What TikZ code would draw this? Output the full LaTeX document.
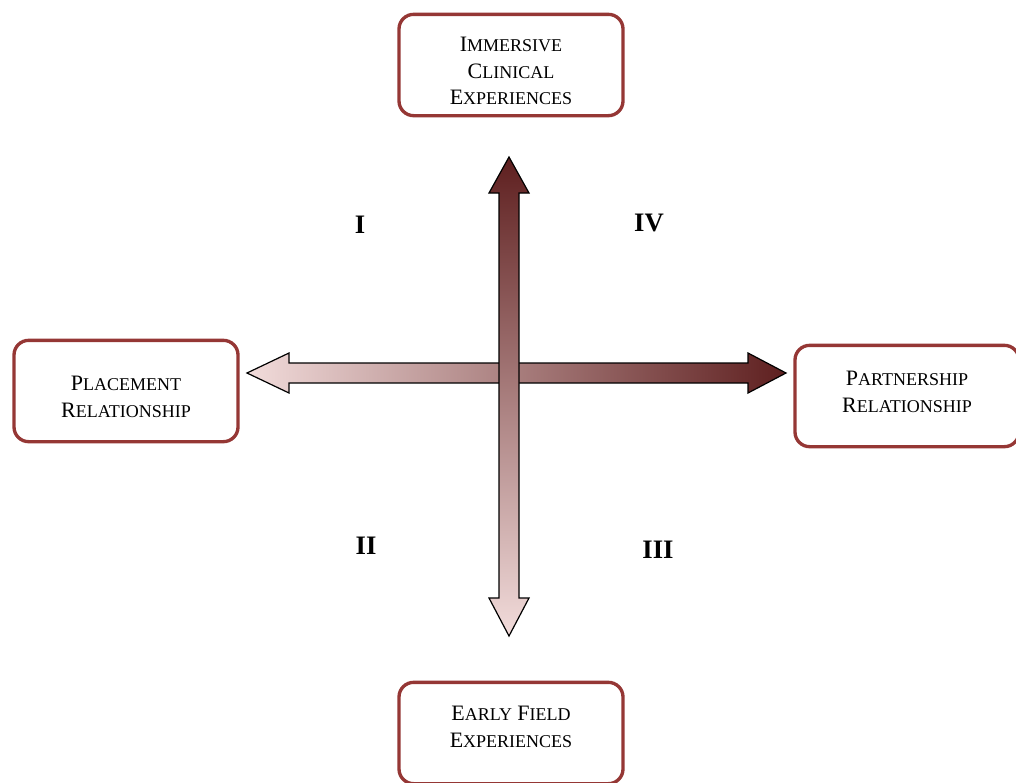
\documentclass[tikz,border=0pt]{standalone}
\usepackage{fontspec}
\setmainfont{Liberation Serif}
\usetikzlibrary{positioning}
\definecolor{boxred}{HTML}{953735}
\definecolor{arrdark}{HTML}{5E1F1F}
\definecolor{arrlight}{HTML}{F2DCDB}
\newcommand{\fakesc}[2]{{\fontsize{16.5}{20}\selectfont #1}{\fontsize{13.5}{20}\selectfont #2}}

\begin{document}
\begin{tikzpicture}[
  x=0.75pt, y=-0.75pt,
  quadbox/.style={draw=boxred, line width=2.5pt, rounded corners=11pt, minimum width=168pt, minimum height=76pt},
  boxtext/.style={align=center, inner sep=0pt, font=\fontsize{16}{20}\selectfont},
  numeral/.style={font=\fontsize{20}{24}\selectfont\bfseries},
  blockarrow/.style={draw=black, line width=0.9pt, line join=miter}
]
  \useasboundingbox (0,0) rectangle (1016,782);

  \node[quadbox] (clinical) at (511,65) {};
  \node[quadbox] (placement) at (126,391) {};
  \node[quadbox] (partnership) at (907,396) {};
  \node[quadbox] (field) at (511,733) {};

  \node[boxtext] (clinicaltxt) at ([yshift=-4.5pt]clinical.center) {\fakesc{I}{MMERSIVE}\\\fakesc{C}{LINICAL}\\\fakesc{E}{XPERIENCES}};
  \node[boxtext] (placementtxt) at ([yshift=-4.5pt]placement.center) {\fakesc{P}{LACEMENT}\\\fakesc{R}{ELATIONSHIP}};
  \node[boxtext] (partnershiptxt) at ([yshift=3pt]partnership.center) {\fakesc{P}{ARTNERSHIP}\\\fakesc{R}{ELATIONSHIP}};
  \node[boxtext] (fieldtxt) at ([yshift=4.5pt]field.center) {\fakesc{E}{ARLY} \fakesc{F}{IELD}\\\fakesc{E}{XPERIENCES}};

  % Horizontal double arrow: placement -> partnership.
  \shade[blockarrow, left color=arrlight, right color=arrdark]
    (289,363) -- (289,353) -- (247,373) -- (289,393) -- (289,383)
    -- (748,383) -- (748,393) -- (786,373) -- (748,353) -- (748,363) -- cycle;

  % Vertical double arrow: field experiences -> clinical.
  \shade[blockarrow, top color=arrdark, bottom color=arrlight]
    (499,193) -- (489,193) -- (509,157) -- (529,193) -- (519,193)
    -- (519,598) -- (529,598) -- (509,636) -- (489,598) -- (499,598) -- cycle;

  % Quadrants.
  \node[numeral] (q1) at (360,225) {I};
  \node[numeral] (q4) at (649,223) {IV};
  \node[numeral] (q2) at (366,546) {II};
  \node[numeral] (q3) at (658,550) {III};
\end{tikzpicture}
\end{document}
